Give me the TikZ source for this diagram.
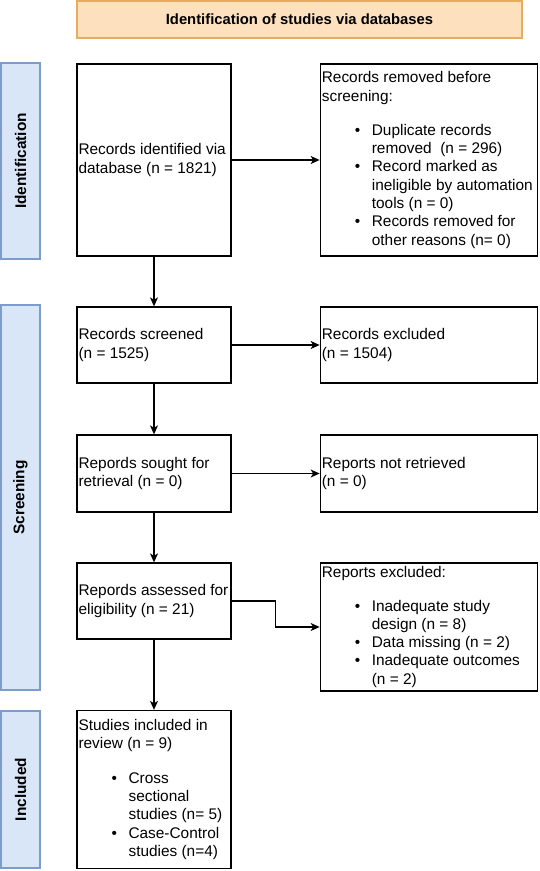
\documentclass[tikz,border=0pt]{standalone}
\usepackage{fontspec}
\setmainfont{Liberation Sans}
\usetikzlibrary{arrows.meta}
\definecolor{hdrfill}{HTML}{FDE0BE}
\definecolor{hdrdraw}{HTML}{E5AD5C}
\definecolor{barfill}{HTML}{D9E6F8}
\definecolor{bardraw}{HTML}{7E9CCB}
\newcommand\bul{\makebox[50pt][l]{\hspace*{33pt}\textbullet}}
\newcommand\ind{\hspace*{50pt}}
\begin{document}
\begin{tikzpicture}[x=1pt,y=-1pt,
  box/.style={draw=black, line width=1.3pt, fill=white, inner sep=0pt},
  txt/.style={anchor=west, inner sep=0pt, align=left, font=\fontsize{15.4}{18.3}\selectfont},
  hdr/.style={draw=hdrdraw, fill=hdrfill, line width=1.3pt, inner sep=0pt, font=\bfseries\fontsize{14.8}{17}\selectfont},
  bar/.style={draw=bardraw, fill=barfill, line width=1.3pt, inner sep=0pt, rotate=90, font=\bfseries\fontsize{15.4}{17}\selectfont},
  arr/.style={line width=1.2pt, -{Stealth[length=9pt,width=8pt,inset=2.5pt]}}]
\useasboundingbox (0,0) rectangle (539,871);
% header
\node[hdr, minimum width=445pt, minimum height=37pt] (hd) at (299.5,19.5) {Identification of studies via databases};
% side bars
\node[bar, minimum width=196pt, minimum height=39pt] (bid) at (20.5,161) {Identification};
\node[bar, minimum width=385pt, minimum height=39pt] (bsc) at (20.5,497.5) {Screening};
\node[bar, minimum width=157pt, minimum height=39pt] (bin) at (20.5,789.5) {Included};
% boxes
\node[box, minimum width=154pt, minimum height=192pt] (A) at (154,160) {};
\node[box, minimum width=217pt, minimum height=192pt] (B) at (428.8,160) {};
\node[box, minimum width=154pt, minimum height=76pt] (C) at (154,345) {};
\node[box, minimum width=217pt, minimum height=76pt] (D) at (428.8,345) {};
\node[box, minimum width=154pt, minimum height=77pt] (E) at (154,473.5) {};
\node[box, minimum width=217pt, minimum height=77pt] (F) at (428.8,473.5) {};
\node[box, minimum width=154pt, minimum height=76pt] (G) at (154,601) {};
\node[box, minimum width=217pt, minimum height=128pt] (H) at (428.8,627) {};
\node[box, minimum width=154pt, minimum height=158pt] (I) at (154,789.5) {};
% texts
\node[txt] (At) at ([xshift=2pt]A.west) {Records identified via\\database (n = 1821)};
\node[txt] (Bt) at ([xshift=2pt]B.west) {Records removed before\\screening:\\[16pt]
\bul Duplicate records\\ \ind removed~ (n = 296)\\ \bul Record marked as\\ \ind ineligible by automation\\ \ind tools (n = 0)\\ \bul Records removed for\\ \ind other reasons (n= 0)};
\node[txt] (Ct) at ([xshift=2pt]C.west) {Records screened\\(n = 1525)};
\node[txt] (Dt) at ([xshift=2pt]D.west) {Records excluded\\(n = 1504)};
\node[txt] (Et) at ([xshift=2pt]E.west) {Repords sought for\\retrieval (n = 0)};
\node[txt] (Ft) at ([xshift=2pt]F.west) {Reports not retrieved\\(n = 0)};
\node[txt] (Gt) at ([xshift=2pt]G.west) {Repords assessed for\\eligibility (n = 21)};
\node[txt] (Ht) at ([xshift=2pt]H.west) {Reports excluded:\\[15pt]
\bul Inadequate study\\ \ind design (n = 8)\\ \bul Data missing (n = 2)\\ \bul Inadequate outcomes\\ \ind (n = 2)};
\node[txt] (It) at ([xshift=2pt]I.west) {Studies included in\\review (n = 9)\\[16pt]
\bul Cross\\ \ind sectional\\ \ind studies (n= 5)\\ \bul Case-Control\\ \ind studies (n=4)};
% connectors
\draw[arr] (A.east) -- (B.west);
\draw[arr] (A.south) -- (C.north);
\draw[arr] (C.east) -- (D.west);
\draw[arr] (C.south) -- (E.north);
\draw[arr] (E.east) -- (F.west);
\draw[arr] (E.south) -- (G.north);
\draw[arr] (G.east) -- ++(44,0) |- (H.west);
\draw[arr] (G.south) -- (I.north);
\end{tikzpicture}
\end{document}
